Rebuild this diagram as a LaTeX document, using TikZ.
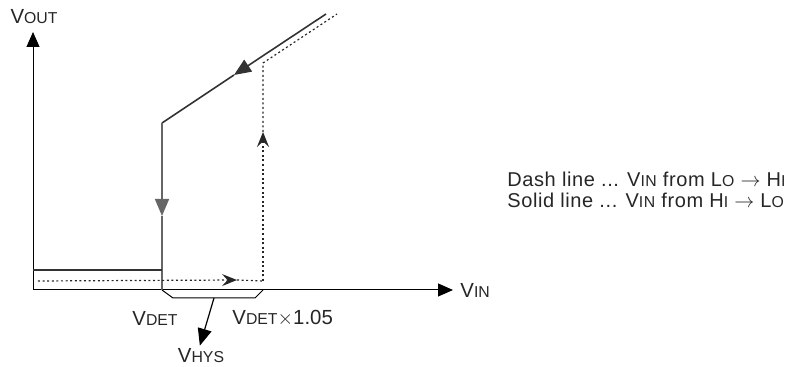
\documentclass[tikz,border=0pt]{standalone}
\usepackage{fontspec}
\setmainfont{Liberation Sans}
\newfontfamily\notefont[LetterSpace=3]{Liberation Sans}
\usetikzlibrary{arrows.meta}
\newcommand{\lowcap}[1]{{\fontsize{7.9}{9}\selectfont #1}}

\begin{document}
\begin{tikzpicture}[x=0.5pt,y=-0.5pt,
    font=\fontsize{10.2}{12}\selectfont, text=black!85,
    axis/.style={line width=0.5pt,-{Triangle[length=7.5pt,width=6.5pt]}},
    solidline/.style={line width=0.8pt,draw=black!80},
    dashline/.style={line width=0.6pt,draw=black!85,dash pattern=on 1pt off 1.3pt},
    bigtip/.style={-{Triangle[length=8.5pt,width=7pt]}},
    smalltip/.style={-{Stealth[length=7.5pt,width=6pt,inset=2.8pt]}}
]
\useasboundingbox (0,0) rectangle (803,367);

    % axes
    \coordinate (origin) at (33,290);
    \coordinate (ytip) at (33,32);
    \coordinate (xtip) at (453,290);
    \draw[axis] (origin) -- (ytip);
    \draw[axis] (origin) -- (xtip);
    \node (vout) at (34,17) {V\lowcap{OUT}};
    \node[anchor=west,inner sep=1pt] (vin) at (458,290) {V\lowcap{IN}};

    % solid line ... Hi -> Lo
    \coordinate (stop) at (326,14);
    \coordinate (sarrow) at (234,75);
    \coordinate (sknee) at (162,123);
    \coordinate (sdown) at (162,216);
    \coordinate (sjoin) at (162,270);
    \coordinate (sfoot) at (162,290);
    \coordinate (sleft) at (33,270);
    \draw[solidline,bigtip] (stop) -- (sarrow);
    \draw[solidline] (sarrow) -- (sknee);
    \draw[solidline,draw=black!60,bigtip] (sknee) -- (sdown);
    \draw[solidline,draw=black!60] (sdown) -- (sfoot);
    \draw[solidline] (sleft) -- (sjoin);

    % dash line ... Lo -> Hi
    \coordinate (dleft) at (38,281);
    \coordinate (darrow) at (237,280);
    \coordinate (dcorner) at (263,281);
    \coordinate (dup) at (263,132);
    \coordinate (dknee) at (263,63);
    \coordinate (dtop) at (337,14);
    \draw[dashline,smalltip] (dleft) -- (darrow);
    \draw[dashline] (darrow) -- (dcorner);
    \draw[dashline,smalltip] (dcorner) -- (dup);
    \draw[dashline] (dup) -- (dknee) -- (dtop);

    % hysteresis bracket
    \coordinate (hysl) at (173,298);
    \coordinate (hysr) at (255,298);
    \coordinate (hysend) at (263,290);
    \coordinate (hysmid) at (214,298);
    \draw[line width=0.5pt] (sfoot) -- (hysl) -- (hysr) -- (hysend);
    \node (vdet) at (155,318) {V\lowcap{DET}};
    \node[anchor=west,inner sep=1pt] (vdet105) at (230,318) {V\lowcap{DET}$\times$1.05};
    \node (vhys) at (201,356) {V\lowcap{HYS}};
    \draw[line width=0.6pt,bigtip,shorten >=-2pt] (hysmid) -- (vhys.north);

    % legend
    \node[anchor=base west,inner sep=0pt,font=\notefont\fontsize{10}{12}\selectfont] (dashnote) at (507,187)
        {Dash line ... V\lowcap{IN} from L\lowcap{O} $\rightarrow$ H\lowcap{I}};
    \node[anchor=base west,inner sep=0pt,font=\notefont\fontsize{10}{12}\selectfont] (solidnote) at (507,208)
        {Solid line ... V\lowcap{IN} from H\lowcap{I} $\rightarrow$ L\lowcap{O}};

\end{tikzpicture}
\end{document}
